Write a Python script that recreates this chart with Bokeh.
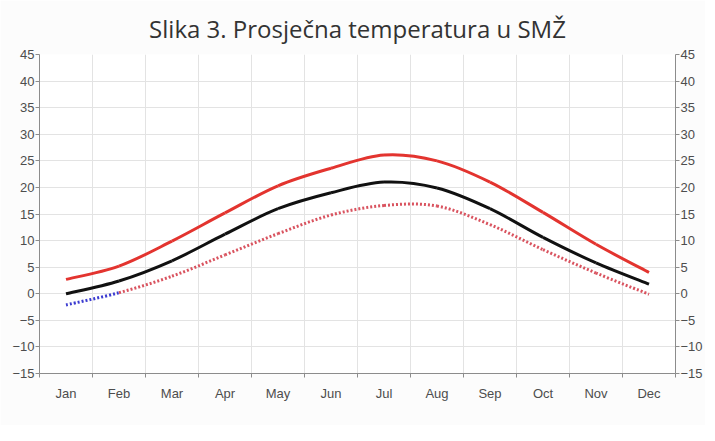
from bokeh.plotting import figure
from bokeh.models import Range1d, FixedTicker, LinearAxis, ColumnDataSource
from bokeh.embed import file_html
from bokeh.resources import INLINE

months = ["Jan", "Feb", "Mar", "Apr", "May", "Jun", "Jul", "Aug", "Sep", "Oct", "Nov", "Dec"]
t_max = [2.7, 5.2, 9.9, 15.2, 20.3, 23.6, 26.1, 25.0, 21.0, 15.3, 9.3, 4.0]
t_mean = [0.0, 2.4, 6.2, 11.2, 16.0, 19.0, 21.0, 19.9, 16.0, 10.6, 5.8, 1.8]
t_min = [-2.1, 0.2, 3.3, 7.3, 11.3, 14.8, 16.6, 16.5, 13.0, 8.3, 3.9, -0.1]
y_ticks = [-15, -10, -5, 0, 5, 10, 15, 20, 25, 30, 35, 40, 45]
title_text = "Slika 3. Prosječna temperatura u SMŽ"

n = len(months)
xc = [i + 0.5 for i in range(n)]
bounds = list(range(n + 1))


def bezier_segments(xs, ys):
    """Catmull-Rom smoothing through the data points, as bezier segments."""
    d = dict(x0=[], y0=[], x1=[], y1=[], cx0=[], cy0=[], cx1=[], cy1=[], start=[])
    m = len(xs)
    for i in range(m - 1):
        p0 = (xs[max(i - 1, 0)], ys[max(i - 1, 0)])
        p1 = (xs[i], ys[i])
        p2 = (xs[i + 1], ys[i + 1])
        p3 = (xs[min(i + 2, m - 1)], ys[min(i + 2, m - 1)])
        d["x0"].append(p1[0]); d["y0"].append(p1[1])
        d["x1"].append(p2[0]); d["y1"].append(p2[1])
        d["cx0"].append(p1[0] + (p2[0] - p0[0]) / 6.0)
        d["cy0"].append(p1[1] + (p2[1] - p0[1]) / 6.0)
        d["cx1"].append(p2[0] - (p3[0] - p1[0]) / 6.0)
        d["cy1"].append(p2[1] - (p3[1] - p1[1]) / 6.0)
        d["start"].append(ys[i])
    return d


p = figure(width=705, height=425,
           x_range=Range1d(0, n), y_range=Range1d(y_ticks[0], y_ticks[-1]),
           output_backend="svg", toolbar_location=None,
           min_border_left=39, min_border_right=26, min_border_top=54, min_border_bottom=52,
           title=title_text)

p.background_fill_color = "#ffffff"
p.border_fill_color = "#fcfcfc"
p.outline_line_color = None

p.title.align = "center"
p.title.text_font = "Open Sans"
p.title.text_font_size = "24px"
p.title.text_font_style = "normal"
p.title.text_color = "#333333"
p.title.standoff = 19

axis_color = "#8c8c8c"
label_color = "#4d4d4d"
label_font = "Liberation Sans"

# bottom axis
xa = p.xaxis[0]
xa.ticker = FixedTicker(ticks=xc, minor_ticks=bounds)
xa.major_label_overrides = {x: m for x, m in zip(xc, months)}
xa.major_tick_out = 0
xa.major_tick_in = 0
xa.minor_tick_out = 4
xa.minor_tick_in = 0
xa.minor_tick_line_color = axis_color
xa.axis_line_color = axis_color
xa.major_label_text_color = label_color
xa.major_label_text_font = label_font
xa.major_label_text_font_size = "13px"
xa.major_label_standoff = 8

ya = p.yaxis[0]
ya.ticker = FixedTicker(ticks=y_ticks, minor_ticks=[])
ya.major_tick_out = 4
ya.major_tick_in = 0
ya.minor_tick_out = 0
ya.minor_tick_in = 0
ya.axis_line_color = axis_color
ya.major_tick_line_color = axis_color
ya.major_label_text_color = label_color
ya.major_label_text_font = label_font
ya.major_label_text_font_size = "13px"
ya.major_label_standoff = 1

ra = LinearAxis(ticker=FixedTicker(ticks=y_ticks, minor_ticks=[]))
ra.major_tick_out = 4
ra.major_tick_in = 0
ra.minor_tick_out = 0
ra.minor_tick_in = 0
ra.axis_line_color = axis_color
ra.major_tick_line_color = axis_color
ra.major_label_text_color = label_color
ra.major_label_text_font = label_font
ra.major_label_text_font_size = "13px"
ra.major_label_standoff = 1
p.add_layout(ra, "right")

p.xgrid.ticker = FixedTicker(ticks=bounds, minor_ticks=[])
p.ygrid.ticker = FixedTicker(ticks=y_ticks, minor_ticks=[])
p.xgrid.grid_line_color = "#e3e3e3"
p.ygrid.grid_line_color = "#e3e3e3"

# series
src_max = ColumnDataSource(bezier_segments(xc, t_max))
src_mean = ColumnDataSource(bezier_segments(xc, t_mean))
seg_min = bezier_segments(xc, t_min)
neg = {k: [v for v, s in zip(seg_min[k], seg_min["start"]) if s < 0] for k in seg_min}
pos = {k: [v for v, s in zip(seg_min[k], seg_min["start"]) if s >= 0] for k in seg_min}

bz = dict(x0="x0", y0="y0", x1="x1", y1="y1", cx0="cx0", cy0="cy0", cx1="cx1", cy1="cy1")
p.bezier(source=ColumnDataSource(pos), line_color="#d9535f", line_width=3, line_dash="2 2", **bz)
p.bezier(source=ColumnDataSource(neg), line_color="#3b3bd0", line_width=3, line_dash="2 2", **bz)
p.bezier(source=src_mean, line_color="#111111", line_width=3, **bz)
p.bezier(source=src_max, line_color="#e3342f", line_width=3, **bz)

open("out.html", "w").write(file_html(p, INLINE))
